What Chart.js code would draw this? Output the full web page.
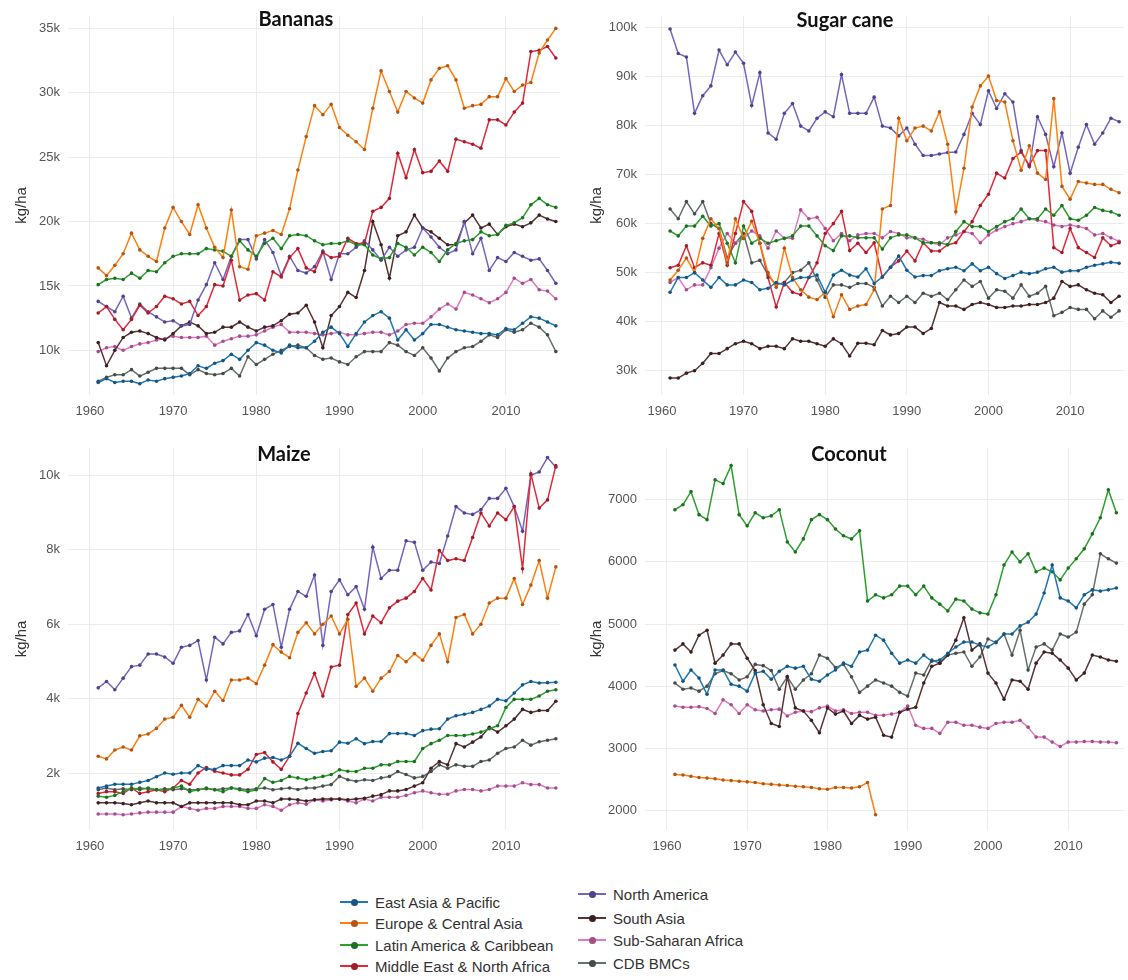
<!DOCTYPE html>
<html>
<head>
<meta charset="utf-8">
<title>Crop yields by region</title>
<script src="https://cdn.jsdelivr.net/npm/chart.js@4.4.0/dist/chart.umd.min.js"></script>
<style>
  body { margin: 0; background: #fff; width: 1128px; height: 980px; position: relative; overflow: hidden; }
  canvas { position: absolute; }
  .key { position: absolute; display: flex; align-items: center; height: 18px;
         font: 15px "Liberation Sans", Arial, sans-serif; color: #333; white-space: nowrap; }
  .swatch { position: relative; width: 28px; height: 2px; margin-right: 7px; }
  .swatch i { position: absolute; left: 11px; top: -2.5px; width: 7px; height: 7px; border-radius: 50%; }
</style>
</head>
<body>
<canvas id="bananas" width="564" height="425" style="left:0;top:0"></canvas>
<canvas id="sugar" width="563" height="425" style="left:565px;top:0"></canvas>
<canvas id="maize" width="564" height="433" style="left:0;top:432px"></canvas>
<canvas id="coconut" width="563" height="433" style="left:565px;top:432px"></canvas>
<div id="legend"></div>

<script>
// years on the x axis, 1961 - 2016
const years = [1961, 1962, 1963, 1964, 1965, 1966, 1967, 1968, 1969, 1970,
  1971, 1972, 1973, 1974, 1975, 1976, 1977, 1978, 1979, 1980,
  1981, 1982, 1983, 1984, 1985, 1986, 1987, 1988, 1989, 1990,
  1991, 1992, 1993, 1994, 1995, 1996, 1997, 1998, 1999, 2000,
  2001, 2002, 2003, 2004, 2005, 2006, 2007, 2008, 2009, 2010,
  2011, 2012, 2013, 2014, 2015, 2016]

const regions = ["East Asia & Pacific", "Europe & Central Asia", "Latin America & Caribbean",
  "Middle East & North Africa", "North America", "South Asia", "Sub-Saharan Africa", "CDB BMCs"]
const regionColors = ["#1f77b4", "#ff7f0e", "#2ca02c", "#e3283a", "#7466c0", "#5a3333", "#e377c2", "#66706b"]
// markers are drawn a bit darker than the lines
const pointColors = ["#17557f", "#b0561a", "#1f6e24", "#9c1f2b", "#4e448a", "#3a2020", "#a04f88", "#454b48"]

const xTicks = [1960, 1970, 1980, 1990, 2000, 2010]
const bananasTicks = [10000, 15000, 20000, 25000, 30000, 35000]
const sugarTicks = [30000, 40000, 50000, 60000, 70000, 80000, 90000, 100000]
const maizeTicks = [2000, 4000, 6000, 8000, 10000]
const coconutTicks = [2000, 3000, 4000, 5000, 6000, 7000]

// ---- Bananas (kg/ha)
const bananasEAP = [7500, 7800, 7500, 7600, 7600, 7400, 7700, 7600, 7800, 7900,
  8000, 8200, 8800, 8600, 9000, 9200, 9700, 9300, 10000, 10600,
  10400, 10000, 9800, 10400, 10200, 10200, 10700, 11400, 11800, 11300,
  10300, 11300, 12200, 12700, 13000, 12500, 10800, 11600, 10800, 11300,
  12000, 12000, 11800, 11600, 11500, 11400, 11300, 11300, 11200, 11700,
  11600, 12100, 12600, 12500, 12200, 11900]
const bananasECA = [16400, 15800, 16600, 17500, 19100, 17800, 17300, 16900, 19500, 21100,
  20000, 19000, 21300, 19500, 18000, 17200, 20900, 16500, 16300, 18900,
  19100, 19300, 19000, 21000, 24000, 26600, 29000, 28300, 29100, 27300,
  26700, 26200, 25600, 28800, 31700, 30100, 28500, 30100, 29600, 29200,
  31000, 31900, 32100, 31000, 28800, 29000, 29100, 29700, 29700, 31100,
  30100, 30600, 30800, 33100, 34100, 35000]
const bananasLAC = [15100, 15500, 15600, 15500, 16000, 15600, 16200, 16100, 16800, 17300,
  17500, 17500, 17500, 17900, 17800, 17700, 17300, 18500, 17800, 17300,
  18300, 18700, 17900, 18900, 19000, 18900, 18500, 18200, 18300, 18300,
  18500, 18200, 18200, 17400, 17100, 17200, 18300, 18000, 17400, 18000,
  17600, 16900, 17800, 18300, 18500, 18600, 19200, 18900, 19000, 19700,
  19900, 20300, 21300, 21800, 21300, 21100]
const bananasMENA = [12900, 13400, 12400, 11600, 12400, 13500, 12900, 13400, 14200, 14000,
  13600, 13800, 12700, 13400, 15100, 15000, 17000, 13900, 14300, 14400,
  13900, 16100, 15700, 17200, 17900, 16400, 16100, 17600, 17200, 17300,
  18700, 18300, 18300, 20800, 21100, 21800, 25300, 23400, 25600, 23800,
  23900, 24700, 23900, 26400, 26200, 26000, 25700, 27900, 27900, 27500,
  28500, 29200, 33200, 33300, 33600, 32700]
const bananasNA = [13800, 13400, 13000, 14200, 12500, 13600, 13000, 12600, 12200, 12300,
  11900, 12000, 13900, 15100, 16800, 15500, 17300, 18600, 18600, 17100,
  18600, 17600, 15800, 17300, 16200, 16000, 16500, 17700, 15500, 17500,
  17500, 18000, 18500, 17800, 17000, 18000, 17300, 17800, 18000, 19500,
  18800, 18000, 17500, 17800, 20000, 17500, 18700, 16200, 17200, 16900,
  17600, 17300, 17000, 17100, 16200, 15200]
const bananasSA = [10600, 8800, 10000, 11000, 11400, 11500, 11300, 11000, 10800, 11300,
  11900, 12200, 11900, 11300, 11400, 11800, 11800, 12200, 11800, 11500,
  11800, 11900, 12300, 12800, 12900, 13500, 12200, 10200, 12700, 13400,
  14500, 14100, 16200, 20000, 18200, 15600, 18900, 19200, 20500, 19500,
  19200, 18700, 18200, 18200, 19900, 20500, 19500, 19800, 19000, 19600,
  19800, 19600, 19900, 20500, 20200, 20000]
const bananasSSA = [9900, 10200, 10300, 10000, 10300, 10500, 10600, 10800, 10900, 11100,
  11000, 11000, 11000, 11100, 10400, 10700, 10900, 11100, 11100, 11200,
  11500, 11800, 12000, 11400, 11400, 11400, 11300, 11200, 11300, 11400,
  11200, 11200, 11300, 11400, 11400, 11200, 11500, 12000, 12100, 12100,
  12600, 13200, 13600, 13200, 14500, 14300, 14000, 13700, 14000, 14500,
  15600, 15200, 15500, 14700, 14600, 14000]
const bananasCDB = [7600, 7900, 8100, 8100, 8500, 8000, 8300, 8600, 8600, 8600,
  8600, 8100, 8500, 8200, 8100, 8200, 8600, 8000, 9500, 8900,
  9300, 9700, 10000, 10300, 10400, 10200, 9600, 9300, 9400, 9100,
  8900, 9500, 9900, 9900, 9900, 10600, 10400, 9900, 9600, 10200,
  9400, 8400, 9400, 9900, 10200, 10300, 10700, 11200, 11000, 11600,
  11400, 11600, 12100, 11800, 11200, 9900]

// ---- Sugar cane (kg/ha)
const sugarEAP = [46000, 49000, 49000, 50000, 48500, 47000, 49000, 47500, 47500, 48500,
  48000, 46500, 46800, 48000, 47500, 48500, 49000, 49000, 49500, 46000,
  49500, 50500, 49500, 49100, 50800, 47800, 49100, 51100, 53400, 50500,
  49100, 49400, 49400, 50400, 50800, 51100, 50400, 51800, 50400, 51100,
  49800, 48800, 49400, 50100, 49800, 50100, 50800, 51100, 50100, 50400,
  50400, 51100, 51500, 51800, 52100, 51900]
const sugarECA = [48500, 50500, 53000, 50000, 57000, 61000, 59000, 52000, 61000, 57000,
  60500, 56000, 50000, 47000, 55000, 49000, 46500, 45000, 44500, 46000,
  41000, 45500, 42500, 43200, 43500, 46500, 63000, 63700, 81500, 76900,
  79500, 79900, 78900, 82800, 76200, 62400, 71300, 83800, 88100, 90100,
  85100, 84800, 76900, 70900, 75900, 70300, 69000, 85500, 67600, 65000,
  68600, 68300, 68000, 68000, 67000, 66300]
const sugarLAC = [58500, 57500, 59500, 59500, 61500, 59500, 60000, 56000, 52000, 59500,
  56000, 57000, 56000, 56500, 57000, 57500, 59500, 59500, 57500, 55500,
  54500, 57500, 57500, 57100, 57100, 57100, 54800, 57100, 57700, 57700,
  57100, 56100, 56100, 56100, 55700, 58400, 60400, 59400, 59400, 58400,
  59400, 60400, 61000, 63000, 61000, 61000, 63000, 61700, 63700, 61000,
  60700, 61700, 63300, 62700, 62400, 61700]
const sugarMENA = [51000, 51500, 55500, 51000, 52000, 51500, 58000, 51500, 58000, 64500,
  62500, 56000, 49000, 43000, 48000, 46000, 45500, 49000, 52000, 58000,
  60000, 62500, 54500, 56000, 54100, 56100, 49100, 51100, 52400, 54400,
  52400, 56100, 54400, 54400, 55700, 56100, 58400, 60400, 63700, 66000,
  70300, 69300, 73300, 74600, 71900, 74900, 74900, 55100, 54100, 59000,
  55100, 54100, 53100, 57100, 55500, 56100]
const sugarNA = [99700, 94700, 94000, 82500, 86100, 88100, 95400, 92400, 95000, 92700,
  84100, 90800, 78500, 77200, 82500, 84500, 79900, 78900, 81500, 82800,
  81800, 90400, 82500, 82500, 82500, 85800, 79900, 79500, 77900, 79500,
  76200, 73900, 73900, 74200, 74500, 74600, 78200, 82500, 80200, 87100,
  83500, 86500, 84800, 74900, 71600, 81800, 78200, 71600, 78500, 70300,
  75600, 80200, 76200, 78500, 81500, 80800]
const sugarSA = [28500, 28500, 29500, 30000, 31500, 33500, 33500, 34500, 35500, 36000,
  35500, 34500, 35000, 35000, 34500, 36500, 36000, 36000, 35500, 35000,
  36500, 35500, 33000, 35600, 35600, 35300, 38200, 37300, 37600, 38900,
  38900, 37600, 38600, 43900, 43200, 43200, 42500, 43500, 43900, 43500,
  42900, 42900, 43200, 43200, 43500, 43500, 43900, 44800, 48200, 47200,
  47500, 46500, 45800, 45500, 43900, 45200]
const sugarSSA = [48000, 49000, 46500, 47500, 47500, 51000, 55000, 58000, 56000, 57000,
  58500, 57500, 55000, 58500, 57000, 57000, 62800, 61000, 61300, 59000,
  56500, 58000, 56500, 57700, 58000, 58000, 57100, 58400, 58000, 57100,
  57100, 56800, 56100, 55700, 57100, 57700, 58400, 58000, 56100, 57700,
  58700, 59400, 60000, 60400, 61000, 60700, 60400, 59700, 59400, 59700,
  59400, 59000, 57700, 58000, 57100, 56400]
const sugarCDB = [63000, 61000, 64500, 62000, 64500, 60000, 59000, 53000, 56000, 58000,
  52000, 52500, 49500, 47500, 48000, 50000, 50500, 52000, 48500, 45000,
  47500, 47500, 47000, 47800, 47800, 47000, 43200, 45200, 43900, 45200,
  43900, 45800, 45200, 45800, 44500, 46500, 48500, 47200, 48200, 44800,
  46500, 46200, 44800, 47500, 45200, 45800, 47200, 41200, 41900, 42900,
  42500, 42500, 40600, 42200, 40900, 42200]

// ---- Maize (kg/ha)
const maizeEAP = [1600, 1650, 1700, 1700, 1700, 1750, 1800, 1900, 2000, 1970,
  2000, 2000, 2200, 2100, 2100, 2200, 2200, 2200, 2350, 2300,
  2400, 2420, 2350, 2450, 2800, 2660, 2530, 2580, 2600, 2830,
  2800, 2920, 2790, 2850, 2850, 3060, 3060, 3060, 3010, 3140,
  3180, 3190, 3450, 3540, 3580, 3630, 3710, 3800, 3980, 3940,
  4150, 4370, 4460, 4420, 4430, 4440]
const maizeECA = [2450, 2380, 2620, 2700, 2620, 3000, 3050, 3200, 3450, 3500,
  3820, 3500, 3980, 3800, 4200, 3950, 4500, 4500, 4550, 4400,
  4900, 5450, 5250, 5100, 5780, 6040, 5740, 6000, 6220, 5740,
  6130, 4330, 4550, 4200, 4550, 4730, 5160, 4990, 5210, 5030,
  5430, 5740, 4990, 6180, 6260, 5740, 6000, 6570, 6700, 6700,
  7230, 6530, 7050, 7710, 6700, 7540]
const maizeLAC = [1380, 1350, 1400, 1500, 1600, 1550, 1600, 1550, 1550, 1600,
  1650, 1500, 1550, 1600, 1550, 1500, 1600, 1550, 1500, 1550,
  1850, 1750, 1800, 1910, 1870, 1820, 1870, 1910, 1960, 2090,
  2050, 2040, 2130, 2130, 2220, 2220, 2310, 2310, 2310, 2660,
  2790, 2880, 3010, 3010, 3010, 3050, 3100, 3190, 3270, 3760,
  3980, 3980, 3980, 4070, 4200, 4240]
const maizeMENA = [1450, 1500, 1500, 1450, 1600, 1450, 1500, 1550, 1500, 1600,
  1800, 1700, 2000, 2150, 2050, 2000, 1950, 1950, 2100, 2500,
  2550, 2300, 2100, 2450, 3600, 4150, 4680, 4070, 4850, 4900,
  6260, 6570, 5740, 6220, 6040, 6440, 6620, 6700, 6880, 7230,
  6920, 7980, 7710, 7760, 7710, 8330, 8990, 8640, 8990, 8810,
  9160, 7490, 10040, 9120, 9340, 10260]
const maizeNA = [4290, 4460, 4240, 4550, 4860, 4900, 5200, 5200, 5120, 4950,
  5380, 5430, 5560, 4500, 5650, 5470, 5780, 5820, 6260, 5690,
  6400, 6530, 5380, 6400, 6880, 6750, 7320, 5430, 6880, 7190,
  6790, 7010, 6400, 8070, 7230, 7450, 7450, 8240, 8200, 7450,
  7670, 7630, 8370, 9160, 8990, 8950, 9080, 9380, 9380, 9650,
  9160, 8500, 10000, 10090, 10480, 10220]
const maizeSA = [1200, 1200, 1200, 1180, 1150, 1200, 1250, 1200, 1200, 1200,
  1100, 1200, 1200, 1200, 1200, 1200, 1200, 1150, 1150, 1250,
  1250, 1200, 1300, 1300, 1280, 1250, 1280, 1300, 1300, 1300,
  1280, 1300, 1320, 1380, 1420, 1520, 1520, 1560, 1650, 1740,
  2130, 2310, 2220, 2790, 2700, 2830, 2970, 3230, 3100, 3270,
  3450, 3710, 3630, 3680, 3680, 3930]
const maizeSSA = [900, 900, 900, 880, 900, 930, 950, 950, 950, 950,
  1100, 1050, 1000, 1050, 1050, 1100, 1100, 1100, 1050, 1050,
  1150, 1100, 1000, 1150, 1200, 1160, 1280, 1250, 1280, 1300,
  1250, 1200, 1300, 1250, 1350, 1350, 1350, 1400, 1470, 1520,
  1470, 1430, 1430, 1520, 1560, 1560, 1520, 1560, 1650, 1650,
  1650, 1740, 1690, 1690, 1600, 1600]
const maizeCDB = [1550, 1600, 1550, 1580, 1550, 1600, 1580, 1550, 1580, 1550,
  1580, 1550, 1550, 1580, 1550, 1580, 1600, 1580, 1550, 1580,
  1600, 1550, 1580, 1600, 1560, 1600, 1600, 1650, 1690, 1910,
  1820, 1780, 1820, 1800, 1870, 1910, 2040, 1960, 1870, 1910,
  2040, 2220, 2130, 2220, 2180, 2180, 2310, 2350, 2530, 2660,
  2700, 2880, 2750, 2840, 2880, 2920]

// ---- Coconut (kg/ha); Europe stops in 1986, no North America / MENA series
const coconutEAP = [4340, 4080, 4260, 4130, 3870, 4260, 4260, 4030, 4000, 3920,
  4210, 4240, 4110, 4240, 4320, 4290, 4320, 4110, 4080, 4180,
  4260, 4370, 4320, 4550, 4580, 4820, 4740, 4530, 4370, 4420,
  4370, 4500, 4400, 4420, 4530, 4630, 4710, 4710, 4660, 4630,
  4710, 4840, 4840, 4970, 5030, 5160, 5500, 5950, 5420, 5370,
  5260, 5470, 5550, 5530, 5550, 5580]
const coconutECA = [2580, 2570, 2550, 2530, 2520, 2510, 2490, 2480, 2470, 2460,
  2450, 2430, 2420, 2410, 2400, 2390, 2380, 2370, 2350, 2340,
  2370, 2370, 2360, 2380, 2450, 1930]
const coconutLAC = [6840, 6920, 7130, 6760, 6680, 7320, 7260, 7550, 6760, 6580,
  6790, 6710, 6740, 6840, 6320, 6160, 6370, 6680, 6760, 6680,
  6530, 6420, 6370, 6500, 5370, 5470, 5420, 5470, 5610, 5610,
  5470, 5610, 5420, 5320, 5210, 5400, 5370, 5240, 5180, 5160,
  5470, 5950, 6160, 6000, 6130, 5840, 5900, 5840, 5710, 5900,
  6050, 6210, 6450, 6710, 7160, 6790]
const coconutSA = [4580, 4680, 4550, 4820, 4900, 4370, 4500, 4680, 4680, 4450,
  4250, 3700, 3400, 3350, 4150, 3650, 3600, 3450, 3250, 3650,
  3550, 3600, 3400, 3530, 3470, 3500, 3210, 3180, 3580, 3630,
  3660, 4050, 4320, 4370, 4500, 4740, 5100, 4580, 4680, 4210,
  4050, 3790, 4100, 4080, 3950, 4370, 4550, 4530, 4420, 4290,
  4100, 4210, 4500, 4470, 4420, 4400]
const coconutSSA = [3680, 3660, 3660, 3670, 3640, 3560, 3780, 3700, 3560, 3700,
  3620, 3600, 3620, 3630, 3520, 3580, 3600, 3590, 3650, 3680,
  3600, 3620, 3560, 3580, 3580, 3530, 3530, 3550, 3580, 3680,
  3370, 3320, 3320, 3240, 3420, 3420, 3370, 3370, 3340, 3320,
  3400, 3420, 3420, 3450, 3340, 3180, 3180, 3100, 3030, 3100,
  3100, 3110, 3110, 3100, 3100, 3090]
const coconutCDB = [4050, 3950, 3970, 3920, 4000, 4200, 4250, 4200, 4100, 4150,
  4350, 4330, 4250, 3950, 4150, 3950, 4100, 4200, 4500, 4450,
  4300, 4350, 4150, 3900, 4000, 4100, 4050, 4000, 3900, 3840,
  4210, 4180, 4420, 4370, 4500, 4530, 4550, 4320, 4470, 4760,
  4700, 4840, 4500, 4900, 4260, 4630, 4680, 4580, 4840, 4790,
  4870, 5320, 5470, 6130, 6050, 5980]


Chart.defaults.font.family = '"Liberation Sans", Arial, sans-serif'
Chart.defaults.font.size = 13
Chart.defaults.color = "#555"

// panel title drawn inside the plot, like the original
const panelTitle = {
  id: "panelTitle",
  afterDraw(chart, args, opts) {
    const ctx = chart.ctx
    ctx.save()
    ctx.font = "bold 20px Lato, sans-serif"
    ctx.fillStyle = "#111"
    ctx.textAlign = "center"
    ctx.textBaseline = "middle"
    ctx.fillText(opts.text, opts.x, opts.y)
    ctx.restore()
  }
}

function makeDatasets(seriesList) {
  let sets = []
  for (let i = 0; i < seriesList.length; i++) {
    let values = seriesList[i]
    if (!values) continue
    sets.push({
      label: regions[i],
      data: values.map((v, j) => ({ x: years[j], y: v })),
      borderColor: regionColors[i],
      backgroundColor: pointColors[i],
      borderWidth: 1.5,
      pointRadius: 1.8,
      pointBorderWidth: 0,
      tension: 0
    })
  }
  return sets
}

function drawPanel(id, p) {
  new Chart(document.getElementById(id), {
    type: "line",
    data: { datasets: makeDatasets(p.series) },
    plugins: [panelTitle],
    options: {
      responsive: false,
      animation: false,
      layout: { padding: { top: p.top, right: 2, left: 0, bottom: 0 } },
      plugins: {
        legend: { display: false },
        tooltip: { enabled: false },
        panelTitle: { text: p.title, x: p.titleX, y: p.titleY }
      },
      scales: {
        x: {
          type: "linear",
          min: p.xMin, max: p.xMax,
          afterBuildTicks: axis => { axis.ticks = xTicks.map(v => ({ value: v })) },
          afterFit: axis => { axis.height = p.xHeight },
          grid: { color: "#ececec", drawTicks: false },
          border: { display: false },
          ticks: { padding: 9, maxRotation: 0, autoSkip: false, callback: v => String(v) }
        },
        y: {
          min: p.yMin, max: p.yMax,
          afterBuildTicks: axis => { axis.ticks = p.yTicks.map(v => ({ value: v })) },
          afterFit: axis => { axis.width = p.yWidth },
          grid: { color: "#ececec", drawTicks: false },
          border: { display: false },
          ticks: { padding: 8, callback: v => p.useK ? (v / 1000) + "k" : String(v) },
          title: { display: true, text: "kg/ha", color: "#333", font: { size: 15 },
                   padding: { top: p.titlePad, bottom: 0 } }
        }
      }
    }
  })
}

drawPanel("bananas", {
  title: "Bananas", titleX: 296, titleY: 20,
  series: [bananasEAP, bananasECA, bananasLAC, bananasMENA, bananasNA, bananasSA, bananasSSA, bananasCDB],
  yTicks: bananasTicks, yMin: 6530, yMax: 35980, useK: true,
  xMin: 1957.37, xMax: 2016.5, top: 5, xHeight: 30, yWidth: 68, titlePad: 13
})
drawPanel("sugar", {
  title: "Sugar cane", titleX: 280, titleY: 21,
  series: [sugarEAP, sugarECA, sugarLAC, sugarMENA, sugarNA, sugarSA, sugarSSA, sugarCDB],
  yTicks: sugarTicks, yMin: 25040, yMax: 102400, useK: true,
  xMin: 1957.93, xMax: 2016.6, top: 5, xHeight: 30, yWidth: 80, titlePad: 23
})
drawPanel("maize", {
  title: "Maize", titleX: 284, titleY: 23,
  series: [maizeEAP, maizeECA, maizeLAC, maizeMENA, maizeNA, maizeSA, maizeSSA, maizeCDB],
  yTicks: maizeTicks, yMin: 470, yMax: 10740, useK: true,
  xMin: 1957.37, xMax: 2016.5, top: 8, xHeight: 35, yWidth: 68, titlePad: 13
})
drawPanel("coconut", {
  title: "Coconut", titleX: 284, titleY: 23,
  series: [coconutEAP, coconutECA, coconutLAC, null, null, coconutSA, coconutSSA, coconutCDB],
  yTicks: coconutTicks, yMin: 1685, yMax: 7836, useK: false,
  xMin: 1957.27, xMax: 2016.95, top: 8, xHeight: 35, yWidth: 80, titlePad: 23
})

// legend in two columns under the panels
const legendCols = [
  { left: 340, rows: [902, 923, 945, 966], items: [0, 1, 2, 3] },
  { left: 578, rows: [894, 918, 940, 963], items: [4, 5, 6, 7] }
]
const legend = document.getElementById("legend")
legendCols.forEach(col => {
  col.items.forEach((idx, r) => {
    let key = document.createElement("div")
    key.className = "key"
    key.style.left = col.left + "px"
    key.style.top = (col.rows[r] - 9) + "px"
    key.innerHTML = '<span class="swatch" style="background:' + regionColors[idx] + '">' +
      '<i style="background:' + pointColors[idx] + '"></i></span>' + regions[idx]
    legend.appendChild(key)
  })
})
</script>
</body>
</html>
